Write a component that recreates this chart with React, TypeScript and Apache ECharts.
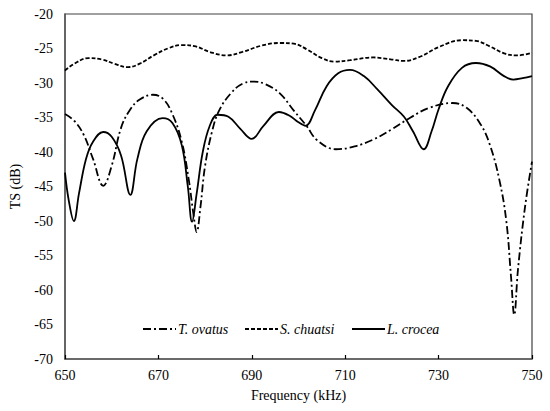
import React, { useEffect, useRef } from "react";
import * as echarts from "echarts";

const ovatusF = [650, 652, 654, 656, 658.2, 660, 662, 664, 666, 668.8, 671, 673, 675, 676.5, 677.5, 678.2, 679, 680, 681.5, 683, 685.5, 688, 690.5, 693, 696, 699, 701.7, 704, 708, 712, 716, 720, 724, 728, 733, 736, 739, 741, 743, 744.5, 745.5, 746.2, 747, 748.5, 750];
const ovatusV = [-34.5, -35.5, -37.5, -41, -44.9, -42, -36.5, -33.8, -32.4, -31.7, -32.3, -34.5, -38.5, -44, -49, -51.6, -48, -42, -37, -34, -31.5, -30.1, -29.8, -30.2, -31.5, -34, -36.2, -38.3, -39.6, -39.2, -38.2, -36.7, -35, -33.6, -32.9, -33.6, -36, -39, -44, -50, -58, -63.6, -57, -48, -41.4];

const chuatsiF = [650, 652, 655, 658, 660.5, 663.5, 666, 669, 672, 675, 678, 681, 684.6, 688, 692, 696, 699, 702, 705, 707.8, 711, 716, 720, 722.6, 726, 730, 735, 738, 741, 744, 747, 750];
const chuatsiV = [-28.2, -27.2, -26.4, -26.6, -27.2, -27.7, -27.2, -26, -25, -24.5, -24.7, -25.5, -26, -25.5, -24.6, -24.2, -24.3, -25.2, -26.4, -26.9, -26.7, -26.3, -26.6, -26.8, -26.2, -24.8, -23.8, -23.9, -24.7, -25.7, -26, -25.6];

const croceaF = [650, 650.8, 651.9, 653, 654.5, 656, 658.2, 660, 662, 664, 665.5, 667.5, 670.9, 673, 675, 676.3, 677.2, 678.2, 679.5, 681, 682.7, 685, 687.5, 690, 692.5, 695.8, 698, 700, 701.5, 703.5, 706, 708.5, 711, 714, 717, 720, 722.6, 724.5, 726.8, 728.5, 730, 732, 735, 738, 741, 744, 746, 748, 750];
const croceaV = [-43, -47, -50, -46, -41, -38.5, -37.1, -37.8, -40.5, -46.2, -41, -37, -35.1, -35.8, -39, -45, -50.1, -46, -40, -36.2, -34.6, -34.9, -36.6, -38.1, -36.2, -34.2, -34.7, -35.7, -36.2, -34, -30.5, -28.6, -28.1, -29, -31, -33.2, -34.9, -37, -39.6, -37, -33.8, -30.5, -27.8, -27.1, -27.6, -29, -29.5, -29.3, -29];

const seriesNames = ["T. ovatus", "S. chuatsi", "L. crocea"];
const dashTypes: any[] = [[8, 3, 2, 3], [4, 2], "solid"];

const zip = (f: number[], v: number[]) => f.map((x, i) => [x, v[i]]);

const FONT = "Liberation Serif";

export default function App() {
  const ref = useRef<HTMLDivElement>(null);
  useEffect(() => {
    if (!ref.current) return;
    const chart = echarts.init(ref.current, undefined, { renderer: "svg" });
    const axisColor = "#595959";
    const legendX = [143, 245, 352];
    const legendY = 329;
    const legendGraphics: any[] = [];
    seriesNames.forEach((name, i) => {
      legendGraphics.push({
        type: "line",
        shape: { x1: legendX[i], y1: legendY, x2: legendX[i] + 33, y2: legendY },
        style: { stroke: "#000", lineWidth: 1.8, lineDash: dashTypes[i] === "solid" ? null : dashTypes[i] },
      });
      legendGraphics.push({
        type: "text",
        x: legendX[i] + 35,
        y: legendY,
        style: {
          text: name,
          fontFamily: FONT,
          fontStyle: "italic",
          fontSize: 14,
          fill: "#000",
          verticalAlign: "middle",
          align: "left",
        },
      });
    });
    chart.setOption({
      animation: false,
      backgroundColor: "#fff",
      textStyle: { fontFamily: FONT },
      grid: {
        left: 58,
        right: 18,
        top: 14,
        bottom: 52,
        show: true,
        borderColor: "#404040",
        borderWidth: 1.2,
      },
      graphic: legendGraphics,
      xAxis: {
        type: "value",
        min: 650,
        max: 750,
        interval: 20,
        axisLine: { show: true, lineStyle: { color: axisColor, width: 1.5 } },
        axisTick: { show: true, inside: true, length: 4, lineStyle: { color: "#000", width: 1.2 } },
        splitLine: { show: false },
        axisLabel: { fontFamily: FONT, fontSize: 14, color: "#000", margin: 9 },
        name: "Frequency (kHz)",
        nameLocation: "middle",
        nameGap: 29,
        nameTextStyle: { fontFamily: FONT, fontSize: 14, color: "#000" },
      },
      yAxis: {
        type: "value",
        min: -70,
        max: -20,
        interval: 5,
        axisLine: { show: true, lineStyle: { color: axisColor, width: 1.5 } },
        axisTick: { show: false },
        splitLine: { show: false },
        axisLabel: { fontFamily: FONT, fontSize: 14, color: "#000", margin: 12 },
        name: "TS (dB)",
        nameLocation: "middle",
        nameGap: 43,
        nameTextStyle: { fontFamily: FONT, fontSize: 14, color: "#000" },
      },
      series: seriesNames.map((name, i) => ({
        name,
        type: "line",
        data: [zip(ovatusF, ovatusV), zip(chuatsiF, chuatsiV), zip(croceaF, croceaV)][i],
        smooth: 0.4,
        showSymbol: false,
        symbol: "none",
        lineStyle: { color: "#000", width: 1.8, type: dashTypes[i] },
        itemStyle: { color: "#000" },
      })),
    });
    return () => chart.dispose();
  }, []);
  return (
    <div
      ref={ref}
      style={{ position: "absolute", left: 0, top: 0, width: 550, height: 411 }}
    />
  );
}
